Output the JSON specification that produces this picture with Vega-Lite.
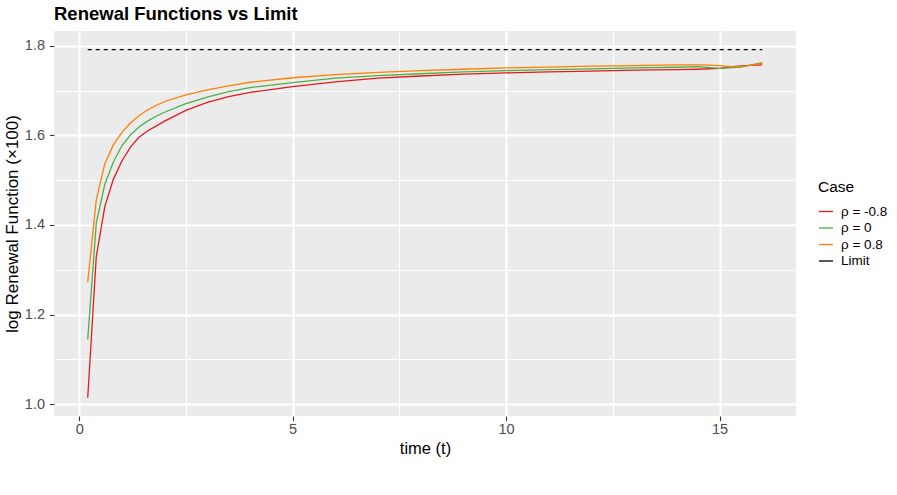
{
  "$schema": "https://vega.github.io/schema/vega-lite/v6.json",
  "width": 742,
  "height": 385,
  "autosize": {"type": "none"},
  "padding": {"left": 54, "top": 31, "right": 101, "bottom": 79},
  "background": "white",
  "title": {"text": "Renewal Functions vs Limit", "anchor": "start", "frame": "group", "font": "Liberation Sans", "fontSize": 18.5, "fontWeight": "bold", "color": "black", "offset": 8},
  "config": {"view": {"fill": "#EBEBEB", "stroke": null}, "font": "Liberation Sans"},
  "data": {"values": [
    {"t": 0.2, "v": 1.014, "Case": "ρ = -0.8"},
    {"t": 0.4, "v": 1.329, "Case": "ρ = -0.8"},
    {"t": 0.6, "v": 1.441, "Case": "ρ = -0.8"},
    {"t": 0.8, "v": 1.502, "Case": "ρ = -0.8"},
    {"t": 1.0, "v": 1.543, "Case": "ρ = -0.8"},
    {"t": 1.2, "v": 1.574, "Case": "ρ = -0.8"},
    {"t": 1.4, "v": 1.596, "Case": "ρ = -0.8"},
    {"t": 1.6, "v": 1.610, "Case": "ρ = -0.8"},
    {"t": 1.8, "v": 1.621, "Case": "ρ = -0.8"},
    {"t": 2.0, "v": 1.632, "Case": "ρ = -0.8"},
    {"t": 2.5, "v": 1.656, "Case": "ρ = -0.8"},
    {"t": 3.0, "v": 1.674, "Case": "ρ = -0.8"},
    {"t": 3.5, "v": 1.687, "Case": "ρ = -0.8"},
    {"t": 4.0, "v": 1.6965, "Case": "ρ = -0.8"},
    {"t": 5.0, "v": 1.709, "Case": "ρ = -0.8"},
    {"t": 6.0, "v": 1.720, "Case": "ρ = -0.8"},
    {"t": 7.0, "v": 1.728, "Case": "ρ = -0.8"},
    {"t": 8.0, "v": 1.733, "Case": "ρ = -0.8"},
    {"t": 9.0, "v": 1.737, "Case": "ρ = -0.8"},
    {"t": 10.0, "v": 1.740, "Case": "ρ = -0.8"},
    {"t": 11.0, "v": 1.742, "Case": "ρ = -0.8"},
    {"t": 12.0, "v": 1.744, "Case": "ρ = -0.8"},
    {"t": 13.0, "v": 1.746, "Case": "ρ = -0.8"},
    {"t": 14.0, "v": 1.747, "Case": "ρ = -0.8"},
    {"t": 14.5, "v": 1.748, "Case": "ρ = -0.8"},
    {"t": 15.0, "v": 1.750, "Case": "ρ = -0.8"},
    {"t": 15.3, "v": 1.754, "Case": "ρ = -0.8"},
    {"t": 15.6, "v": 1.756, "Case": "ρ = -0.8"},
    {"t": 16.0, "v": 1.758, "Case": "ρ = -0.8"},
    {"t": 0.2, "v": 1.1445, "Case": "ρ = 0"},
    {"t": 0.4, "v": 1.404, "Case": "ρ = 0"},
    {"t": 0.6, "v": 1.491, "Case": "ρ = 0"},
    {"t": 0.8, "v": 1.541, "Case": "ρ = 0"},
    {"t": 1.0, "v": 1.577, "Case": "ρ = 0"},
    {"t": 1.2, "v": 1.601, "Case": "ρ = 0"},
    {"t": 1.4, "v": 1.619, "Case": "ρ = 0"},
    {"t": 1.6, "v": 1.632, "Case": "ρ = 0"},
    {"t": 1.8, "v": 1.643, "Case": "ρ = 0"},
    {"t": 2.0, "v": 1.652, "Case": "ρ = 0"},
    {"t": 2.5, "v": 1.671, "Case": "ρ = 0"},
    {"t": 3.0, "v": 1.686, "Case": "ρ = 0"},
    {"t": 3.5, "v": 1.698, "Case": "ρ = 0"},
    {"t": 4.0, "v": 1.707, "Case": "ρ = 0"},
    {"t": 5.0, "v": 1.718, "Case": "ρ = 0"},
    {"t": 6.0, "v": 1.728, "Case": "ρ = 0"},
    {"t": 7.0, "v": 1.734, "Case": "ρ = 0"},
    {"t": 8.0, "v": 1.738, "Case": "ρ = 0"},
    {"t": 9.0, "v": 1.742, "Case": "ρ = 0"},
    {"t": 10.0, "v": 1.745, "Case": "ρ = 0"},
    {"t": 11.0, "v": 1.747, "Case": "ρ = 0"},
    {"t": 12.0, "v": 1.749, "Case": "ρ = 0"},
    {"t": 13.0, "v": 1.751, "Case": "ρ = 0"},
    {"t": 14.0, "v": 1.7525, "Case": "ρ = 0"},
    {"t": 14.5, "v": 1.754, "Case": "ρ = 0"},
    {"t": 15.0, "v": 1.750, "Case": "ρ = 0"},
    {"t": 15.5, "v": 1.753, "Case": "ρ = 0"},
    {"t": 16.0, "v": 1.763, "Case": "ρ = 0"},
    {"t": 0.2, "v": 1.272, "Case": "ρ = 0.8"},
    {"t": 0.4, "v": 1.456, "Case": "ρ = 0.8"},
    {"t": 0.6, "v": 1.537, "Case": "ρ = 0.8"},
    {"t": 0.8, "v": 1.579, "Case": "ρ = 0.8"},
    {"t": 1.0, "v": 1.607, "Case": "ρ = 0.8"},
    {"t": 1.2, "v": 1.628, "Case": "ρ = 0.8"},
    {"t": 1.4, "v": 1.644, "Case": "ρ = 0.8"},
    {"t": 1.6, "v": 1.657, "Case": "ρ = 0.8"},
    {"t": 1.8, "v": 1.667, "Case": "ρ = 0.8"},
    {"t": 2.0, "v": 1.676, "Case": "ρ = 0.8"},
    {"t": 2.5, "v": 1.691, "Case": "ρ = 0.8"},
    {"t": 3.0, "v": 1.702, "Case": "ρ = 0.8"},
    {"t": 3.5, "v": 1.711, "Case": "ρ = 0.8"},
    {"t": 4.0, "v": 1.719, "Case": "ρ = 0.8"},
    {"t": 5.0, "v": 1.729, "Case": "ρ = 0.8"},
    {"t": 6.0, "v": 1.736, "Case": "ρ = 0.8"},
    {"t": 7.0, "v": 1.741, "Case": "ρ = 0.8"},
    {"t": 8.0, "v": 1.745, "Case": "ρ = 0.8"},
    {"t": 9.0, "v": 1.748, "Case": "ρ = 0.8"},
    {"t": 10.0, "v": 1.751, "Case": "ρ = 0.8"},
    {"t": 11.0, "v": 1.753, "Case": "ρ = 0.8"},
    {"t": 12.0, "v": 1.755, "Case": "ρ = 0.8"},
    {"t": 13.0, "v": 1.756, "Case": "ρ = 0.8"},
    {"t": 14.0, "v": 1.758, "Case": "ρ = 0.8"},
    {"t": 14.6, "v": 1.758, "Case": "ρ = 0.8"},
    {"t": 15.0, "v": 1.756, "Case": "ρ = 0.8"},
    {"t": 15.3, "v": 1.7537, "Case": "ρ = 0.8"},
    {"t": 15.6, "v": 1.755, "Case": "ρ = 0.8"},
    {"t": 16.0, "v": 1.761, "Case": "ρ = 0.8"},
    {"t": 0.2, "v": 1.7918, "Case": "Limit"},
    {"t": 16.0, "v": 1.7918, "Case": "Limit"}
  ]},
  "encoding": {
    "x": {
      "field": "t", "type": "quantitative",
      "scale": {"domain": [-0.59, 16.79], "nice": false, "zero": false},
      "axis": {
        "values": [0, 2.5, 5, 7.5, 10, 12.5, 15],
        "labelExpr": "datum.value % 5 === 0 ? format(datum.value, 'd') : ''",
        "title": "time (t)",
        "grid": true, "gridColor": "white",
        "gridWidth": {"condition": {"test": "datum.value % 5 === 0", "value": 2}, "value": 1},
        "domain": false,
        "tickColor": "#333333",
        "tickOpacity": {"condition": {"test": "datum.value % 5 === 0", "value": 1}, "value": 0},
        "tickSize": 4.5, "tickWidth": 1.1,
        "labelFontSize": 14.5, "labelColor": "#4D4D4D", "labelPadding": 2,
        "titleFontSize": 16.5, "titleFontWeight": "normal", "titleColor": "black",
        "titleY": 24, "titleBaseline": "top"
      }
    },
    "y": {
      "field": "v", "type": "quantitative",
      "scale": {"domain": [0.9732, 1.8335], "nice": false, "zero": false},
      "axis": {
        "values": [1.0, 1.1, 1.2, 1.3, 1.4, 1.5, 1.6, 1.7, 1.8],
        "labelExpr": "abs(datum.value * 5 - round(datum.value * 5)) < 0.01 ? format(datum.value, '.1f') : ''",
        "title": "log Renewal Function (×100)",
        "grid": true, "gridColor": "white",
        "gridWidth": {"condition": {"test": "abs(datum.value * 5 - round(datum.value * 5)) < 0.01", "value": 2}, "value": 1},
        "domain": false,
        "tickColor": "#333333",
        "tickOpacity": {"condition": {"test": "abs(datum.value * 5 - round(datum.value * 5)) < 0.01", "value": 1}, "value": 0},
        "tickSize": 4.5, "tickWidth": 1.1,
        "labelFontSize": 14.5, "labelColor": "#4D4D4D", "labelPadding": 5,
        "titleFontSize": 17, "titleFontWeight": "normal", "titleColor": "black",
        "titleX": -33, "titleY": 192.5, "titleAngle": 270, "titleBaseline": "bottom", "titleAlign": "center"
      }
    },
    "color": {
      "field": "Case", "type": "nominal",
      "scale": {"domain": ["ρ = -0.8", "ρ = 0", "ρ = 0.8", "Limit"], "range": ["#E41A1C", "#4DAF4A", "#FF7F00", "black"]},
      "legend": {
        "title": "Case", "orient": "none", "legendX": 764, "legendY": 149,
        "titleFontSize": 15.5, "titleFontWeight": "normal", "titleColor": "black", "titlePadding": 8,
        "labelFontSize": 13.5, "labelColor": "black", "labelOffset": 7,
        "symbolType": "stroke", "symbolSize": 196, "symbolStrokeWidth": 1.3, "symbolDash": [],
        "rowPadding": 1.5
      }
    }
  },
  "layer": [
    {"transform": [{"filter": "datum.Case !== 'Limit'"}], "mark": {"type": "line", "strokeWidth": 1.3}},
    {"transform": [{"filter": "datum.Case === 'Limit'"}], "mark": {"type": "line", "strokeWidth": 1.1, "strokeDash": [4, 4]}}
  ]
}
